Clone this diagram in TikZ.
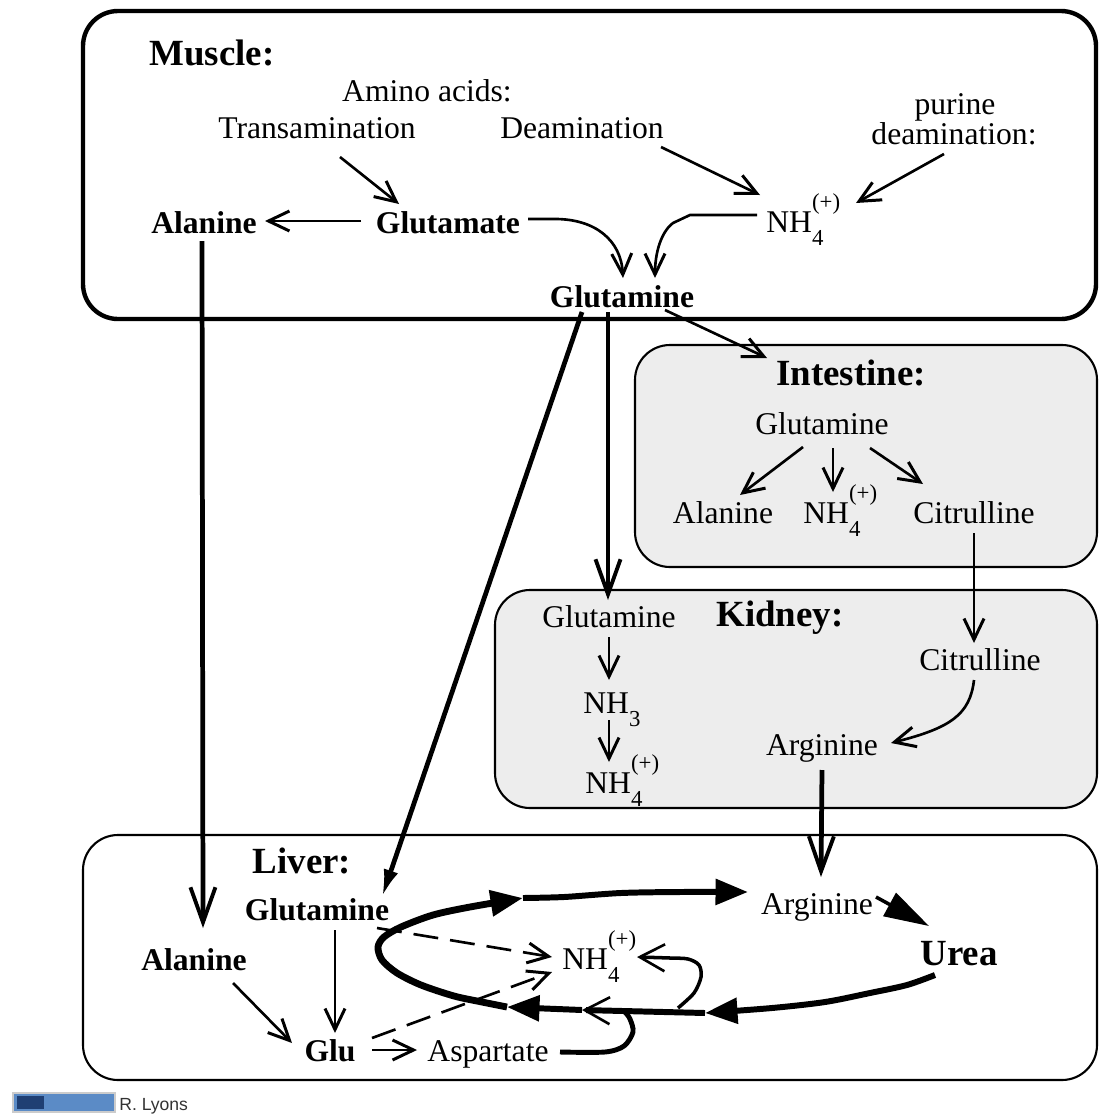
\documentclass[tikz,border=0pt]{standalone}
\usepackage{fontspec}
\setmainfont{Liberation Serif}
\newfontfamily\footfont{Liberation Sans}
\usetikzlibrary{arrows.meta,calc}

\definecolor{organgray}{HTML}{EDEDED}
\definecolor{badgeblue}{HTML}{5B8BC6}
\definecolor{badgenavy}{HTML}{1F3F73}

% ammonium / ammonia with stacked indices
\newcommand\ionsz{\fontsize{13}{13}\selectfont}
\newcommand\ammonium{NH\rlap{\raisebox{-0.42em}{\ionsz 4}}\raisebox{0.72em}{\ionsz(+)}}
\newcommand\ammonia{NH\raisebox{-0.42em}{\ionsz 3}}

\begin{document}
\begin{tikzpicture}[x=0.02cm,y=-0.02cm,
  txt/.style={inner sep=0pt, anchor=base, font=\fontsize{18}{21}\selectfont},
  btxt/.style={txt, font=\fontsize{18}{21}\selectfont\bfseries},
  ttl/.style={txt, font=\fontsize{21}{24}\selectfont\bfseries},
  organ/.style={draw, rounded corners=0.7cm, line width=1.2pt},
  flow/.style={line width=1.5pt, -{Straight Barb[length=4.2mm,width=4mm,line width=1.7pt]}},
  trunk/.style={line width=2.7pt, -{Straight Barb[length=7mm,width=5mm,line width=2.2pt]}},
  dashflow/.style={flow, dash pattern=on 5mm off 2.4mm},
  cyc/.style={line width=3.4pt, -{Triangle[length=6.5mm,width=5mm]}},
  cycV/.style={line width=3.4pt, -{Straight Barb[length=5mm,width=5.4mm,line width=1.5pt]}},
]
\useasboundingbox (0,0) rectangle (1099,1116);
\fill[white] (0,0) rectangle (1099,1116);

% organ compartments
\draw[organ, fill=organgray] (635,345) rectangle (1097,567);
\draw[organ, fill=organgray] (495,590) rectangle (1097,808);
\draw[organ] (83,835) rectangle (1097,1080);
\draw[organ, line width=2.5pt] (83,11) rectangle (1096,319);

% ---- Muscle ----
\node[ttl] (muscleT) at (212,65) {Muscle:};
\node[txt] (aminoAcids) at (427,101) {Amino acids:};
\node[txt] (transam) at (317,138) {Transamination};
\node[txt] (deam) at (582,138) {Deamination};
\node[txt] (purine) at (955,114) {purine};
\node[txt] (purDeam) at (954,144) {deamination:};
\node[btxt] (alaM) at (204,233) {Alanine};
\node[btxt] (gluM) at (448,233) {Glutamate};
\node[txt, anchor=base west] (nhM) at (766,232) {\ammonium};
\node[btxt] (glnM) at (622,307) {Glutamine};

% ---- Intestine ----
\node[ttl] (intT) at (851,385) {Intestine:};
\node[txt] (glnI) at (822,434) {Glutamine};
\node[txt] (alaI) at (723,523) {Alanine};
\node[txt, anchor=base west] (nhI) at (803,523) {\ammonium};
\node[txt] (citI) at (974,523) {Citrulline};

% ---- Kidney ----
\node[ttl] (kidT) at (780,626) {Kidney:};
\node[txt] (glnK) at (609,627) {Glutamine};
\node[txt, anchor=base west] (nh3K) at (583,713) {\ammonia};
\node[txt, anchor=base west] (nh4K) at (585,793) {\ammonium};
\node[txt] (citK) at (980,670) {Citrulline};
\node[txt] (argK) at (822,755) {Arginine};

% ---- Liver ----
\node[ttl] (livT) at (302,873) {Liver:};
\node[btxt] (glnL) at (317,920) {Glutamine};
\node[btxt] (alaL) at (194,970) {Alanine};
\node[btxt] (gluL) at (330,1061) {Glu};
\node[txt] (aspL) at (488,1061) {Aspartate};
\node[txt] (argL) at (817,914) {Arginine};
\node[ttl] (urea) at (959,965) {Urea};
\node[txt, anchor=base west] (nhL) at (562,969) {\ammonium};

% muscle reactions
\draw[flow] ($(transam.base)+(23,19)$) -- ($(gluM.base)+(-49,-29)$);
\draw[flow] ($(deam.base)+(79,9)$) -- ($(nhM.base west)+(-6,-37)$);
\draw[flow] ($(purDeam.base)+(-10,10)$) -- ($(nhM.base west)+(90,-29)$);
\draw[flow] ($(gluM.base)+(-87,-12)$) -- ($(alaM.base)+(61,-12)$);
\draw[flow] ($(gluM.base)+(80,-14)$) -- ++(27,0)
  .. controls +(40,0) and +(-2,-38) .. ($(glnM.base)+(1,-29)$);
\draw[flow] ($(nhM.base west)+(-9,-17)$) -- ++(-67,0) -- ++(-17,8)
  .. controls +(-12,9) and +(0,-25) .. ($(glnM.base)+(33,-29)$);

% transport between organs
\draw[trunk] ($(alaM.base)+(-2,8)$) -- ($(alaL.base)+(9,-42)$);
\draw[trunk, -{Latex[length=5.5mm,width=3mm]}] ($(glnM.base)+(-40,5)$) -- ($(glnL.base)+(65,-23)$);
\draw[trunk] ($(glnM.base)+(-14,5)$) -- ($(glnK.base)+(-1,-27)$);
\draw[flow] ($(glnM.base)+(43,3)$) -- ($(intT.base)+(-84,-27)$);
\draw[flow] ($(citI.base)+(0,10)$) -- ($(citK.base)+(-6,-27)$);
\draw[trunk] ($(argK.base)+(0,15)$) -- ($(argL.base)+(4,-37)$);

% intestine reactions
\draw[flow] ($(glnI.base)+(-19,13)$) -- ($(alaI.base)+(17,-28)$);
\draw[flow] ($(glnI.base)+(11,14)$) -- ($(nhI.base west)+(30,-31)$);
\draw[flow] ($(glnI.base)+(48,14)$) -- ($(citI.base)+(-51,-39)$);

% kidney reactions
\draw[flow] ($(glnK.base)+(0,10)$) -- ($(nh3K.base west)+(26,-33)$);
\draw[flow] ($(nh3K.base west)+(26,7)$) -- ($(nh4K.base west)+(24,-31)$);
\draw[flow] ($(citK.base)+(-6,10)$) .. controls +(-4,35) and +(59,-15) .. ($(argK.base)+(69,-12)$);

% liver reactions
\draw[flow] ($(alaL.base)+(39,13)$) -- ($(gluL.base)+(-38,-18)$);
\draw[flow] ($(glnL.base)+(18,10)$) -- ($(gluL.base)+(5,-28)$);
\draw[flow] ($(gluL.base)+(42,-11)$) -- ($(aspL.base)+(-71,-11)$);
\draw[dashflow] ($(glnL.base)+(60,8)$) -- ($(nhL.base west)+(-10,-12)$);
\draw[dashflow] ($(gluL.base)+(42,-23)$) -- ($(nhL.base west)+(-10,3)$);

% urea cycle loop
\coordinate (cycA) at ($(urea.base)+(-24,10)$);
\coordinate (cycZ) at ($(argL.base)+(-69,-22)$);
\coordinate (cycB) at (705,1013);
\coordinate (cycC) at (582,1010);
\coordinate (cycD) at (507,1007);
\coordinate (cycE) at (523,898);
\draw[cyc] plot[smooth, tension=0.5] coordinates {(cycA) (907,985) (870,993) (825,1002) (772,1008) (cycB)};
\draw[cycV] (cycB) -- (cycC);
\draw[cyc] (cycC) -- (cycD);
\draw[cyc, line width=3.9pt] plot[smooth, tension=0.5] coordinates {(cycD) (482,1002) (454,996) (421,985) (397,973) (382,960) (378,947) (384,937) (401,927) (433,915) (470,907) (cycE)};
\draw[cyc] plot[smooth, tension=0.5] coordinates {(cycE) (564,897) (621,893) (680,892) (cycZ)};

% aspartate entering the cycle
\coordinate (aspStart) at ($(aspL.base)+(72,-9)$);
\draw[line width=2.8pt] plot[smooth, tension=0.5] coordinates {(aspStart) (605,1052) (624,1046) (633,1032) (630,1019) (625,1012)};

% branch back to ammonium
\coordinate (nhTip) at ($(nhL.base west)+(75,-12)$);
\draw[line width=2pt, -{Straight Barb[length=5mm,width=5.4mm,line width=1.5pt]}]
  plot[smooth, tension=0.5] coordinates {(678,1008) (694,993) (701,977) (699,965) (688,959) (670,958) (nhTip)};

% arginine to urea
\draw[line width=2pt, -{Triangle[length=9mm,width=5.2mm]}] ($(argL.base)+(59,-17)$) -- ($(urea.base)+(-30,-39)$);

% author badge
\fill[gray!40] (12,1092) rectangle (116,1113);
\fill[badgeblue] (14,1094) rectangle (114,1111);
\fill[badgenavy] (17,1096) rectangle (44,1109);
\node[anchor=base west, inner sep=0pt, font=\footfont\fontsize{10}{12}\selectfont, text=black!80] (author) at (119,1110) {R. Lyons};
\end{tikzpicture}
\end{document}
